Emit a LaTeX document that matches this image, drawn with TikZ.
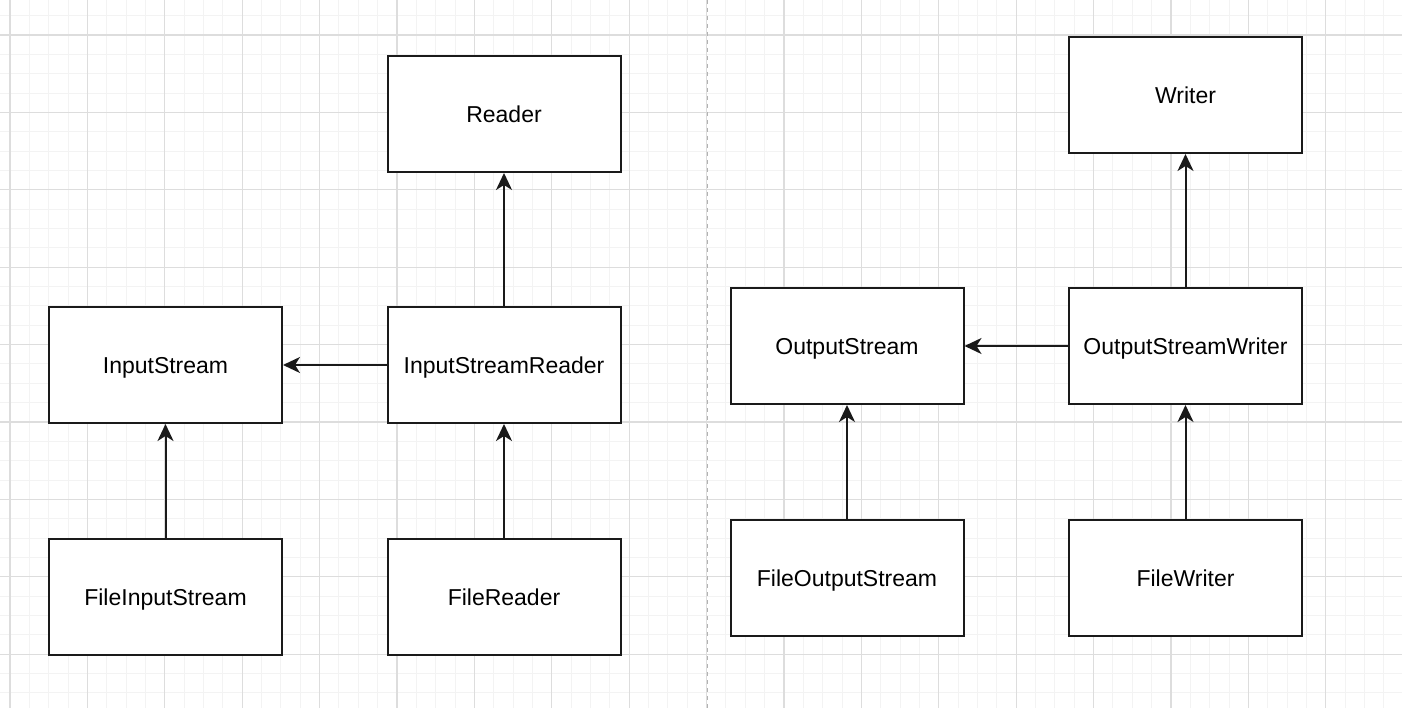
\documentclass[tikz,border=0pt]{standalone}
\usepackage{tikz}
\usetikzlibrary{positioning,arrows.meta}
\usepackage{fontspec}
\setmainfont{Liberation Sans}
\usepackage{xcolor}
\definecolor{gridmin}{HTML}{F3F3F3}
\definecolor{gridmaj}{HTML}{DDDDDD}
\definecolor{boxline}{HTML}{1A1A1A}

\begin{document}
\begin{tikzpicture}[x=1pt,y=-1pt,
    every node/.style={font=\fontsize{23}{27}\selectfont},
    cls/.style={draw=boxline,line width=2pt,fill=white,minimum width=233pt,minimum height=116pt,
      inner sep=0pt,text height=16.5pt,text depth=0pt},
    ext/.style={draw=boxline,line width=2pt,-{Stealth[length=17pt,width=16pt,inset=5pt]}}]
    \useasboundingbox (0,0) rectangle (1402,708);
    \fill[white] (0,0) rectangle (1402,708);
    % background grid
    \foreach \k in {0,...,72} {
      \draw[gridmin,line width=1pt] ({10+19.35*\k},0) -- ({10+19.35*\k},708);
    }
    \foreach \k in {-1,...,35} {
      \draw[gridmin,line width=1pt] (0,{35+19.35*\k}) -- (1402,{35+19.35*\k});
    }
    \foreach \k in {0,...,18} {
      \draw[gridmaj,line width=1.3pt] ({10+77.4*\k},0) -- ({10+77.4*\k},708);
    }
    \foreach \k in {0,...,8} {
      \draw[gridmaj,line width=1.3pt] (0,{35+77.4*\k}) -- (1402,{35+77.4*\k});
    }
    % page break
    \draw[gray!60,line width=1pt,dash pattern=on 4pt off 4pt] (707,0) -- (707,708);
    % reader side
    \node[cls] (reader) at (504,114) {Reader};
    \node[cls] (isr) at (504,365) {InputStreamReader};
    \node[cls] (is) at (165.5,365) {InputStream};
    \node[cls] (fis) at (165.5,597) {FileInputStream};
    \node[cls] (fr) at (504,597) {FileReader};
    % writer side
    \node[cls] (writer) at (1185.5,95) {Writer};
    \node[cls] (osw) at (1185.5,346) {OutputStreamWriter};
    \node[cls] (os) at (847,346) {OutputStream};
    \node[cls] (fos) at (847,578) {FileOutputStream};
    \node[cls] (fw) at (1185.5,578) {FileWriter};
    % inheritance / use
    \draw[ext] (isr) -- (reader);
    \draw[ext] (isr) -- (is);
    \draw[ext] (fis) -- (is);
    \draw[ext] (fr) -- (isr);
    \draw[ext] (osw) -- (writer);
    \draw[ext] (osw) -- (os);
    \draw[ext] (fos) -- (os);
    \draw[ext] (fw) -- (osw);
\end{tikzpicture}
\end{document}
